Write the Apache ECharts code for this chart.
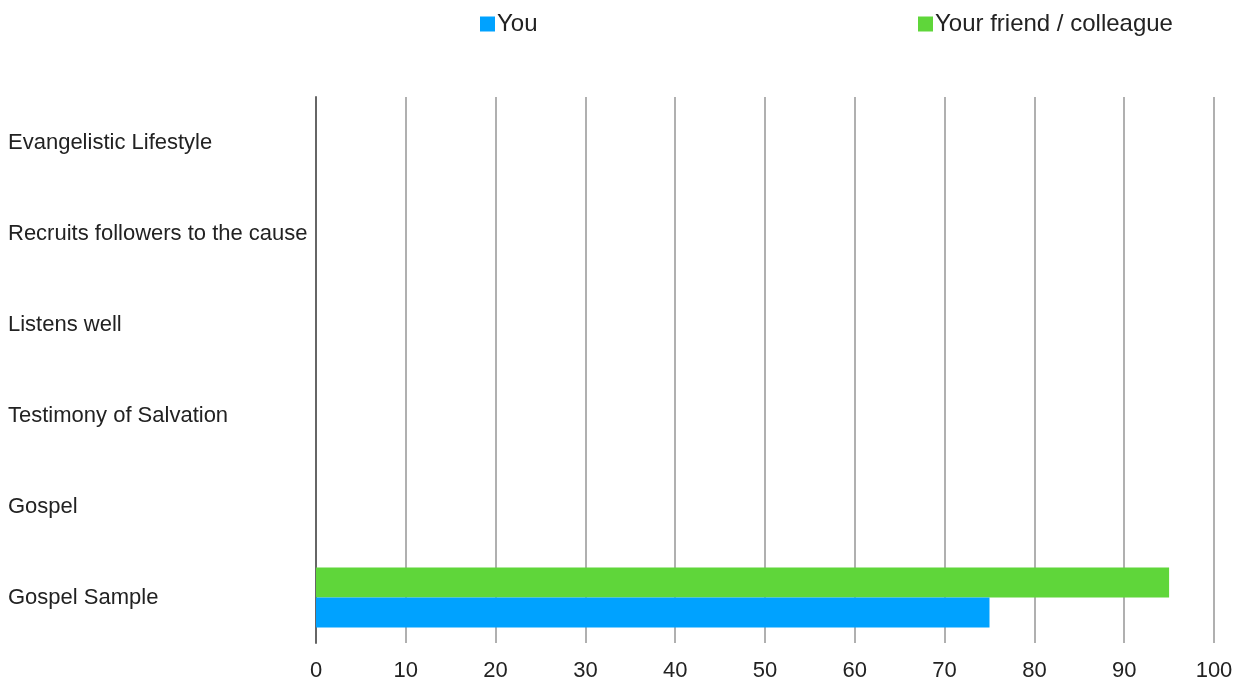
<!DOCTYPE html>
<html><head><meta charset="utf-8">
<script src="https://cdn.jsdelivr.net/npm/echarts@6/dist/echarts.min.js"></script>
<style>html,body{margin:0;padding:0;background:#fff}#c{width:1246px;height:683px}</style>
</head><body><div id="c"></div>
<script>
const categories = ['Gospel Sample','Gospel','Testimony of Salvation','Listens well','Recruits followers to the cause','Evangelistic Lifestyle'];
const youValues = [75, 0, 0, 0, 0, 0];
const friendValues = [95, 0, 0, 0, 0, 0];
const xTicks = [0, 10, 20, 30, 40, 50, 60, 70, 80, 90, 100];

const chart = echarts.init(document.getElementById('c'));
const font = 'Liberation Sans, Arial, sans-serif';
chart.setOption({
  animation: false,
  textStyle: {fontFamily: font},
  legend: [
    {data: ['You'], left: 475, top: 7, itemWidth: 15, itemHeight: 15,
     textStyle: {fontSize: 24, color: '#222', fontFamily: font, padding: [0,0,0,-3]}, icon: 'rect'},
    {data: ['Your friend / colleague'], left: 913, top: 7, itemWidth: 15, itemHeight: 15,
     textStyle: {fontSize: 24, color: '#222', fontFamily: font, padding: [0,0,0,-3]}, icon: 'rect'}
  ],
  grid: {left: 316, right: 32, top: 97, bottom: 40, containLabel: false},
  xAxis: {
    type: 'value', min: 0, max: 100, interval: 10,
    axisLine: {show: false}, axisTick: {show: false},
    splitLine: {show: true, lineStyle: {color: '#b0b0b0', width: 2}},
    axisLabel: {fontSize: 22, color: '#222', margin: 17, fontFamily: font,
      formatter: v => xTicks.includes(v) ? String(v) : ''}
  },
  yAxis: {
    type: 'category', data: categories,
    axisLine: {show: true, lineStyle: {color: '#666', width: 2}},
    axisTick: {show: false},
    axisLabel: {fontSize: 22, color: '#222', align: 'left', margin: 308, fontFamily: font, padding: [6,0,0,0]}
  },
  series: [
    {name: 'Your friend / colleague', type: 'bar', data: friendValues, barWidth: 30, barGap: '0%',
     itemStyle: {color: '#5fd63a'}},
    {name: 'You', type: 'bar', data: youValues, barWidth: 30, barGap: '0%',
     itemStyle: {color: '#00a2ff'}}
  ]
});
</script></body></html>
